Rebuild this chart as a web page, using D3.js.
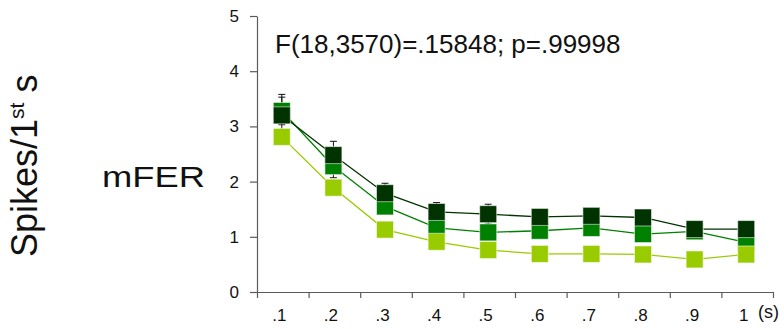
<!DOCTYPE html>
<html>
<head>
<meta charset="utf-8">
<script src="https://cdn.jsdelivr.net/npm/d3@7"></script>
<style>
  html, body { margin: 0; padding: 0; background: #fff; }
  svg { display: block; font-family: "Liberation Sans", Arial, sans-serif; }
</style>
</head>
<body>
<svg id="chart" width="784" height="329"></svg>
<script>
// Intervals (s) on the x axis
const categories = [".1", ".2", ".3", ".4", ".5", ".6", ".7", ".8", ".9", "1"];
const yTicks = [0, 1, 2, 3, 4, 5];

// Mean spikes in the first second, per group
const darkValues   = [3.20, 2.48, 1.79, 1.45, 1.41, 1.36, 1.38, 1.35, 1.14, 1.14];
const mediumValues = [3.28, 2.28, 1.55, 1.16, 1.08, 1.11, 1.16, 1.05, 1.10, 0.90];
const lightValues  = [2.81, 1.89, 1.13, 0.91, 0.76, 0.69, 0.69, 0.68, 0.59, 0.68];

// Standard errors (upper/lower half-length)
const darkErrors   = [0.38, 0.25, 0.18, 0.17, 0.18, 0.12, 0.12, 0.12, 0.10, 0.10];
const mediumErrors = [0.25, 0.21, 0.12, 0.12, 0.12, 0.12, 0.12, 0.12, 0.10, 0.10];

const statText = "F(18,3570)=.15848; p=.99998";

const series = [
  { name: "medium", color: "#008000", values: mediumValues, errors: mediumErrors },
  { name: "light",  color: "#99cc00", values: lightValues,  errors: null },
  { name: "dark",   color: "#003300", values: darkValues,   errors: darkErrors }
];

const svg = d3.select("#chart");
const axisColor = "#5a5a5a";

const x = d3.scaleBand().domain(categories).range([257, 773]);
const xEdge = d3.scaleLinear().domain([0, categories.length]).range([257, 773]);
const y = d3.scaleLinear().domain([0, 5]).range([292, 16]);

// Y axis
const yAxis = svg.append("g")
  .attr("transform", `translate(${x.range()[0]},0)`)
  .call(d3.axisLeft(y).tickValues(yTicks).tickFormat(d3.format("d"))
    .tickSize(7).tickSizeOuter(0).tickPadding(11));
yAxis.selectAll("text").attr("font-size", 17).attr("fill", "#111")
  .attr("font-family", "Liberation Sans, Arial, sans-serif");

// X axis: ticks on the interval boundaries
const xAxis = svg.append("g")
  .attr("transform", `translate(0,${y(0)})`)
  .call(d3.axisBottom(xEdge).tickValues(d3.range(0, categories.length + 1))
    .tickFormat("").tickSize(6).tickSizeOuter(0));

// X labels centred in each interval
const xLabels = svg.append("g")
  .attr("transform", `translate(0,${y(0)})`)
  .call(d3.axisBottom(x).tickSize(0).tickPadding(17));
xLabels.select(".domain").remove();
xLabels.selectAll("text").attr("font-size", 17).attr("fill", "#111").attr("dx", -3.5)
  .attr("font-family", "Liberation Sans, Arial, sans-serif");

[yAxis, xAxis].forEach(g => {
  g.selectAll("path, line").attr("stroke", axisColor).attr("stroke-width", 1.2);
});

svg.append("text")
  .attr("x", 758).attr("y", 317.5)
  .attr("font-size", 18).attr("fill", "#111")
  .text("(s)");

// Lines
const line = d3.line()
  .x((d, i) => x(categories[i]) + x.bandwidth() / 2 - 1)
  .y(d => y(d));

series.forEach(s => {
  svg.append("path")
    .datum(s.values)
    .attr("fill", "none")
    .attr("stroke", s.color)
    .attr("stroke-width", 1.3)
    .attr("d", line);
});

// Error bars (under the markers)
series.filter(s => s.errors).forEach(s => {
  const g = svg.append("g").attr("stroke", "#111").attr("stroke-width", 1);
  s.values.forEach((v, i) => {
    const cx = x(categories[i]) + x.bandwidth() / 2 - 1;
    const e = s.errors[i];
    g.append("line").attr("x1", cx).attr("x2", cx).attr("y1", y(v + e)).attr("y2", y(v - e));
    g.append("line").attr("x1", cx - 3.5).attr("x2", cx + 3.5).attr("y1", y(v + e)).attr("y2", y(v + e));
    g.append("line").attr("x1", cx - 3.5).attr("x2", cx + 3.5).attr("y1", y(v - e)).attr("y2", y(v - e));
  });
});

// Square markers
const size = 17;
series.forEach(s => {
  svg.append("g").selectAll("rect")
    .data(s.values)
    .join("rect")
    .attr("x", (d, i) => x(categories[i]) + x.bandwidth() / 2 - 1 - size / 2)
    .attr("y", d => y(d) - size / 2)
    .attr("width", size)
    .attr("height", size)
    .attr("fill", s.color)
    .attr("stroke", "rgba(255,255,255,0.55)")
    .attr("stroke-width", 1);
});

// Statistics
svg.append("text")
  .attr("x", 275).attr("y", 53)
  .attr("font-size", 26).attr("fill", "#111")
  .text(statText);

// Measure label
svg.append("text")
  .attr("x", 102).attr("y", 187)
  .attr("font-size", 30).attr("fill", "#111")
  .attr("textLength", 103).attr("lengthAdjust", "spacingAndGlyphs")
  .text("mFER");

// Y title
const yTitle = svg.append("text")
  .attr("transform", "translate(37,257) rotate(-90)")
  .attr("font-size", 36).attr("fill", "#111");
yTitle.append("tspan").text("Spikes/1");
yTitle.append("tspan").attr("font-size", 21).attr("dy", -13).text("st");
yTitle.append("tspan").attr("dy", 13).text(" s");
</script>
</body>
</html>
